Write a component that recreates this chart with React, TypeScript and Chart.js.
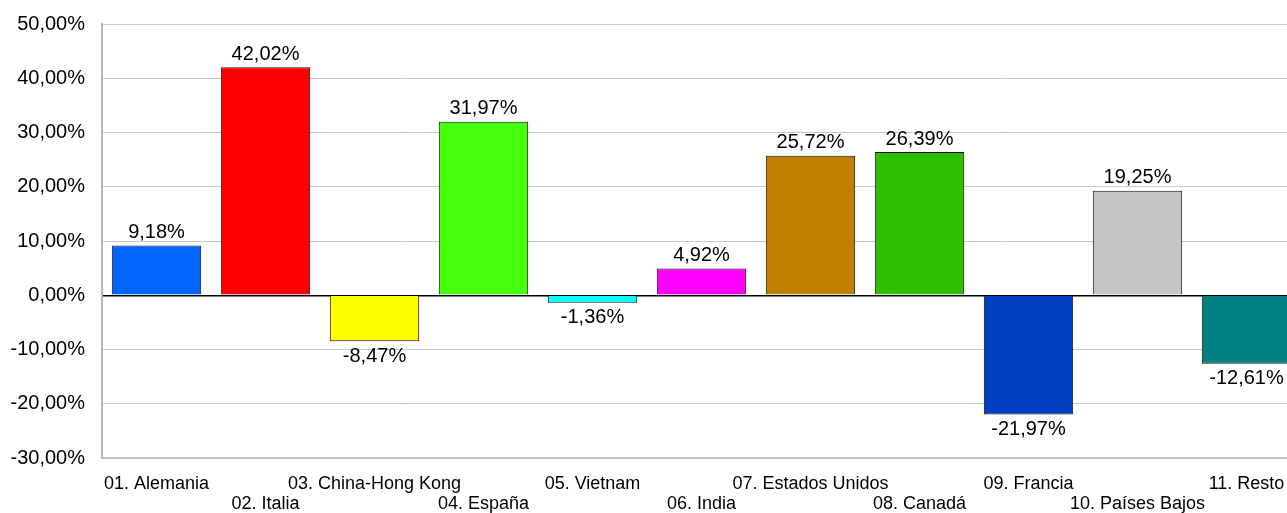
import React, { useEffect, useRef } from "react";
import { Chart, registerables } from "chart.js";

Chart.register(...registerables);

const categories = [
  "01. Alemania",
  "02. Italia",
  "03. China-Hong Kong",
  "04. España",
  "05. Vietnam",
  "06. India",
  "07. Estados Unidos",
  "08. Canadá",
  "09. Francia",
  "10. Países Bajos",
  "11. Resto",
];
const values = [9.18, 42.02, -8.47, 31.97, -1.36, 4.92, 25.72, 26.39, -21.97, 19.25, -12.61];
const barColors = [
  "#0066ff",
  "#ff0000",
  "#ffff00",
  "#46ff0a",
  "#00ffff",
  "#ff00ff",
  "#bf7f00",
  "#2ebf00",
  "#0040c0",
  "#c4c4c4",
  "#008080",
];
const yMin = -30;
const yMax = 50;
const yStep = 10;

const FONT = "'Liberation Sans', Arial, sans-serif";
const fmt = (v: number) => v.toFixed(2).replace(".", ",") + "%";

const labelPlugin = {
  id: "valueLabels",
  afterDatasetsDraw(chart: any) {
    const ctx = chart.ctx;
    const meta = chart.getDatasetMeta(0);
    ctx.save();
    ctx.font = `20px ${FONT}`;
    ctx.fillStyle = "#000";
    ctx.textAlign = "center";
    meta.data.forEach((bar: any, i: number) => {
      const v = values[i];
      if (v >= 0) {
        ctx.textBaseline = "bottom";
        ctx.fillText(fmt(v), bar.x, bar.y - 3);
      } else {
        ctx.textBaseline = "top";
        ctx.fillText(fmt(v), bar.x, bar.y + 5);
      }
    });
    ctx.restore();
  },
};

export default function App() {
  const ref = useRef<HTMLCanvasElement | null>(null);
  useEffect(() => {
    if (!ref.current) return;
    const chart = new Chart(ref.current, {
      type: "bar",
      data: {
        labels: categories,
        datasets: [
          {
            data: values,
            backgroundColor: barColors,
            borderColor: "#111",
            borderWidth: 1,
            barPercentage: 0.82,
            categoryPercentage: 1,
          },
        ],
      },
      plugins: [labelPlugin],
      options: {
        responsive: false,
        animation: false,
        layout: { padding: { top: 24, left: 0, right: 0, bottom: 0 } },
        plugins: { legend: { display: false }, tooltip: { enabled: false } },
        scales: {
          x: {
            offset: true,
            grid: { display: false, drawTicks: false },
            border: { display: true, color: "#c0c0c0", width: 2 },
            ticks: {
              autoSkip: false,
              maxRotation: 0,
              minRotation: 0,
              padding: 16,
              color: "#000",
              font: { family: FONT, size: 18, lineHeight: 1.1 },
              callback: (_v: any, i: number) => (i % 2 === 0 ? categories[i] : ["", categories[i]]),
            },
            afterFit: (scale: any) => {
              scale.height = 55;
              scale.paddingLeft = 0;
              scale.paddingRight = 0;
            },
          },
          y: {
            min: yMin,
            max: yMax,
            grid: {
              drawTicks: false,
              color: (c: any) => (c.tick && c.tick.value === 0 ? "#000" : "#c8c8c8"),
              lineWidth: (c: any) => (c.tick && c.tick.value === 0 ? 1.5 : 1),
            },
            border: { display: true, color: "#b8b8b8", width: 2 },
            ticks: {
              stepSize: yStep,
              padding: 17,
              color: "#000",
              font: { family: FONT, size: 20 },
              callback: (v: any) => fmt(Number(v)),
            },
            afterFit: (scale: any) => {
              scale.width = 102;
              scale.paddingTop = 0;
              scale.paddingBottom = 0;
            },
          },
        },
      },
    });
    return () => chart.destroy();
  }, []);
  return (
    <div style={{ position: "fixed", left: 0, top: 0, width: 1287, height: 513, overflow: "hidden", background: "#fff" }}>
      <canvas ref={ref} width={1301} height={513} style={{ display: "block" }} />
    </div>
  );
}
